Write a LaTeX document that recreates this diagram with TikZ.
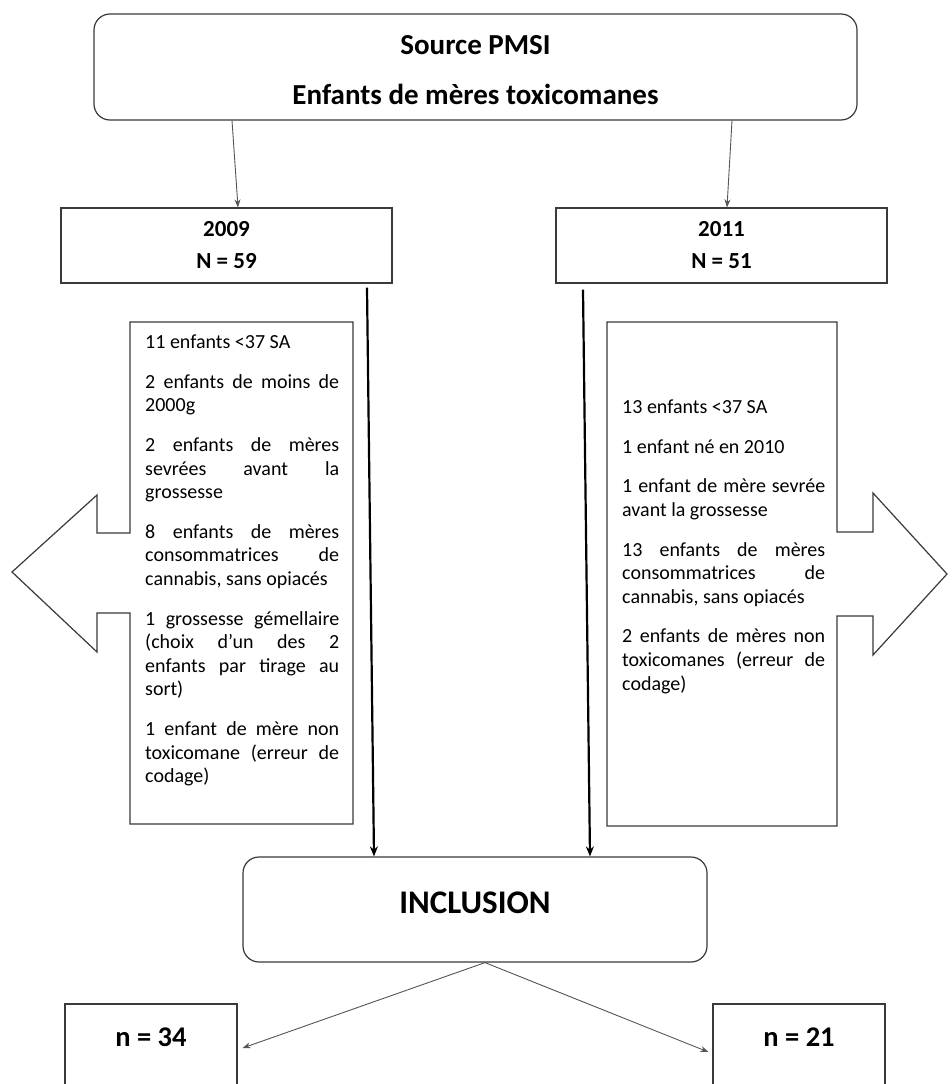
\documentclass[tikz,border=0pt]{standalone}
\usepackage{fontspec}
\setmainfont{Carlito}
\usetikzlibrary{arrows.meta}
\definecolor{linec}{HTML}{3A3A3A}
\definecolor{thinc}{HTML}{555555}
\newcommand\jusL[1]{\makebox[194pt][s]{#1}}
\newcommand\jusR[1]{\makebox[203pt][s]{#1}}
\begin{document}
\begin{tikzpicture}[x=1pt,y=-1pt,
  box/.style={draw=linec, line width=1.2pt, inner sep=0pt},
  shapeline/.style={draw=linec, line width=1.2pt, line join=miter},
  thinarrow/.style={draw=thinc, line width=0.9pt, -{Stealth[length=8pt,width=6pt]}},
  longarrow/.style={draw=black, line width=2.2pt, -{Stealth[length=10pt,width=8pt]}},
  titletext/.style={font=\bfseries\fontsize{29}{50}\selectfont, align=center, inner sep=0pt},
  yeartext/.style={font=\bfseries\fontsize{23}{32}\selectfont, align=center},
  listtext/.style={font=\fontsize{20}{23.6}\selectfont, align=left, anchor=north west, inner sep=0pt}
]
\path[use as bounding box, clip] (0,0) rectangle (952,1084);
\fill[white] (0,0) rectangle (952,1084);

% top box
\node[box, rounded corners=16pt, minimum width=763pt, minimum height=106pt] (top) at (475.5,67) {};
\node[titletext] (toptext) at (475.5,70) {Source PMSI\\Enfants de mères toxicomanes};

% year boxes
\node[box, yeartext, minimum width=331pt, minimum height=75pt] (y2009) at (226.5,245.5) {2009\\N = 59};
\node[box, yeartext, minimum width=331pt, minimum height=75pt] (y2011) at (721.5,245.5) {2011\\N = 51};

\draw[thinarrow] ([xshift=-243.5pt]top.south) -- ([xshift=11.5pt]y2009.north);
\draw[thinarrow] ([xshift=256.5pt]top.south) -- ([xshift=5.5pt]y2011.north);

% exclusion shapes
\draw[shapeline] (130,322) -- (353,322) -- (353,824) -- (130,824) -- (130,613) -- (97,613)
  -- (97,652) -- (12,572) -- (97,495) -- (97,533) -- (130,533) -- cycle;
\draw[shapeline] (607,322) -- (837,322) -- (837,532) -- (873,532) -- (873,493) -- (947,574)
  -- (873,655) -- (873,616) -- (837,616) -- (837,826) -- (607,826) -- cycle;

\node[listtext] (ltext) at (145,333.4) {%
\rule{0pt}{15pt}11 enfants <37 SA\\[16pt]
\jusL{2 enfants de moins de}\\
2000g\\[16pt]
\jusL{2 enfants de mères}\\
\jusL{sevrées avant la}\\
grossesse\\[16pt]
\jusL{8 enfants de mères}\\
\jusL{consommatrices de}\\
cannabis, sans opiacés\\[16pt]
\jusL{1 grossesse gémellaire}\\
\jusL{(choix d’un des 2}\\
\jusL{enfants par tirage au}\\
sort)\\[16pt]
\jusL{1 enfant de mère non}\\
\jusL{toxicomane (erreur de}\\
codage)};

\node[listtext] (rtext) at (622,398.4) {%
\rule{0pt}{15pt}13 enfants <37 SA\\[16pt]
1 enfant né en 2010\\[16pt]
\jusR{1 enfant de mère sevrée}\\
avant la grossesse\\[16pt]
\jusR{13 enfants de mères}\\
\jusR{consommatrices de}\\
cannabis, sans opiacés\\[16pt]
\jusR{2 enfants de mères non}\\
\jusR{toxicomanes (erreur de}\\
codage)};

% inclusion
\node[box, rounded corners=16pt, minimum width=464pt, minimum height=105pt,
  font=\bfseries\fontsize{33}{38}\selectfont, text height=21pt, text depth=14pt] (incl) at (475,909.5) {INCLUSION};

\draw[longarrow] ([xshift=140.5pt,yshift=-4pt]y2009.south) -- ([xshift=-101pt]incl.north);
\draw[longarrow] ([xshift=-138.5pt,yshift=-6pt]y2011.south) -- ([xshift=115pt]incl.north);

% result boxes
\node[box, minimum width=172pt, minimum height=106pt, font=\bfseries\fontsize{28.5}{32}\selectfont,
  text height=18.5pt, text depth=39pt] (n34) at (151,1057) {n = 34};
\node[box, minimum width=172pt, minimum height=106pt, font=\bfseries\fontsize{28.5}{32}\selectfont,
  text height=18.5pt, text depth=39pt] (n21) at (799,1057) {n = 21};

\draw[thinarrow] ([xshift=10pt]incl.south) -- ([xshift=5pt,yshift=9pt]n34.east);
\draw[thinarrow] ([xshift=10pt]incl.south) -- ([xshift=-4pt,yshift=5pt]n21.west);
\end{tikzpicture}
\end{document}
